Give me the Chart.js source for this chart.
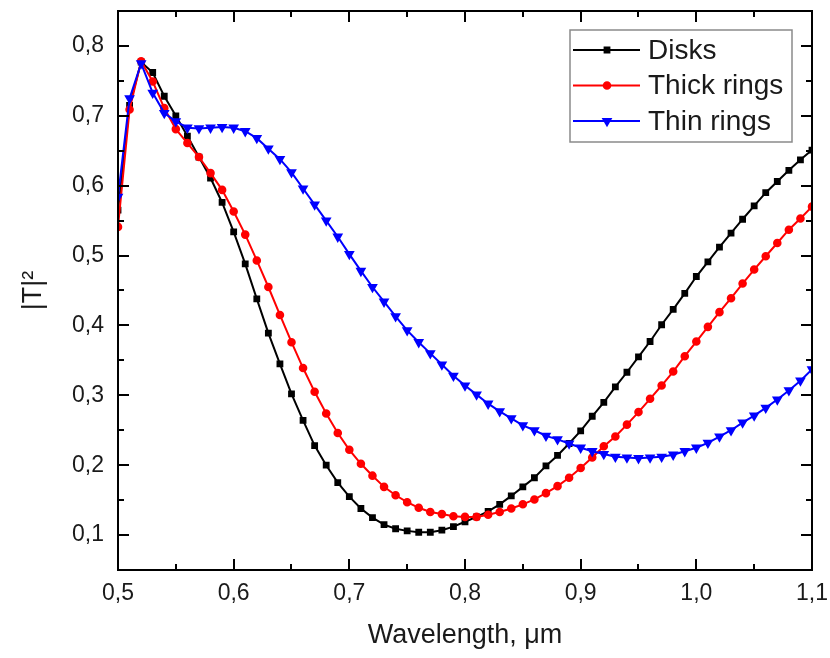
<html>
  <head>
    <script src="https://cdn.jsdelivr.net/npm/chart.js@4.4.0/dist/chart.umd.min.js"></script>
    <title>T2 spectrum</title>
    <style>
      body { margin: 0; background: #fff; }
    </style>
  </head>
  <body>
    <canvas id="myChart" width="830" height="658" style="display:block;width:830px;height:658px;"></canvas>
    <script>
// wavelength, um
const wavelength = [0.50, 0.51, 0.52, 0.53, 0.54, 0.55, 0.56, 0.57, 0.58, 0.59,
  0.60, 0.61, 0.62, 0.63, 0.64, 0.65, 0.66, 0.67, 0.68, 0.69,
  0.70, 0.71, 0.72, 0.73, 0.74, 0.75, 0.76, 0.77, 0.78, 0.79,
  0.80, 0.81, 0.82, 0.83, 0.84, 0.85, 0.86, 0.87, 0.88, 0.89,
  0.90, 0.91, 0.92, 0.93, 0.94, 0.95, 0.96, 0.97, 0.98, 0.99,
  1.00, 1.01, 1.02, 1.03, 1.04, 1.05, 1.06, 1.07, 1.08, 1.09, 1.10];

const disks = [0.565, 0.715, 0.777, 0.762, 0.728, 0.700, 0.671, 0.641, 0.611, 0.576,
  0.534, 0.488, 0.438, 0.389, 0.345, 0.302, 0.264, 0.228, 0.200, 0.175,
  0.155, 0.138, 0.125, 0.115, 0.109, 0.106, 0.104, 0.104, 0.107, 0.112,
  0.119, 0.126, 0.134, 0.144, 0.156, 0.169, 0.182, 0.199, 0.214, 0.231,
  0.249, 0.270, 0.290, 0.312, 0.333, 0.355, 0.377, 0.401, 0.423, 0.446,
  0.470, 0.491, 0.512, 0.532, 0.552, 0.571, 0.590, 0.606, 0.622, 0.637, 0.651];

const thickRings = [0.541, 0.709, 0.778, 0.749, 0.711, 0.681, 0.661, 0.641, 0.618, 0.594,
  0.563, 0.530, 0.493, 0.455, 0.415, 0.376, 0.339, 0.305, 0.274, 0.246,
  0.222, 0.202, 0.185, 0.169, 0.157, 0.147, 0.139, 0.133, 0.130, 0.127,
  0.126, 0.126, 0.129, 0.133, 0.138, 0.144, 0.151, 0.160, 0.170, 0.182,
  0.196, 0.211, 0.227, 0.241, 0.258, 0.276, 0.295, 0.314, 0.334, 0.356,
  0.377, 0.398, 0.419, 0.439, 0.460, 0.480, 0.499, 0.518, 0.537, 0.553, 0.570];

const thinRings = [0.584, 0.725, 0.775, 0.733, 0.704, 0.692, 0.683, 0.682, 0.683, 0.684,
  0.683, 0.678, 0.668, 0.653, 0.638, 0.619, 0.596, 0.573, 0.550, 0.527,
  0.502, 0.478, 0.455, 0.434, 0.413, 0.393, 0.376, 0.360, 0.344, 0.328,
  0.314, 0.301, 0.288, 0.277, 0.267, 0.257, 0.250, 0.242, 0.237, 0.231,
  0.225, 0.220, 0.216, 0.212, 0.211, 0.210, 0.211, 0.212, 0.215, 0.220,
  0.225, 0.232, 0.241, 0.250, 0.261, 0.271, 0.282, 0.294, 0.307, 0.321, 0.337];

const seriesNames = ['Disks', 'Thick rings', 'Thin rings'];
const xTicks = [0.5, 0.6, 0.7, 0.8, 0.9, 1.0, 1.1];
const yTicks = [0.1, 0.2, 0.3, 0.4, 0.5, 0.6, 0.7, 0.8];

const FONT = "'Liberation Sans', Arial, sans-serif";
const TXT = '#1a1a1a';

function pts(arr) {
  return arr.map((v, i) => ({ x: wavelength[i], y: v }));
}
function comma(v) {
  return Number(v).toFixed(1).replace('.', ',');
}
// stop the scales from pushing the plot area in for overflowing labels
function noPad(s) {
  s.paddingTop = 0; s.paddingBottom = 0;
  s.paddingLeft = 0; s.paddingRight = 0;
}

// box frame with inward ticks on all four sides
const frame = {
  id: 'frame',
  afterDatasetsDraw(chart) {
    const { ctx, chartArea: a, scales: { x, y } } = chart;
    ctx.save();
    ctx.strokeStyle = '#000';
    ctx.lineWidth = 2;
    ctx.strokeRect(a.left, a.top, a.right - a.left, a.bottom - a.top);
    ctx.beginPath();
    xTicks.forEach((t, i) => {
      const px = Math.round(x.getPixelForValue(t));
      ctx.moveTo(px, a.bottom); ctx.lineTo(px, a.bottom - 11);
      ctx.moveTo(px, a.top); ctx.lineTo(px, a.top + 11);
      if (i < xTicks.length - 1) {
        const mx = Math.round(x.getPixelForValue((t + xTicks[i + 1]) / 2));
        ctx.moveTo(mx, a.bottom); ctx.lineTo(mx, a.bottom - 6);
        ctx.moveTo(mx, a.top); ctx.lineTo(mx, a.top + 6);
      }
    });
    yTicks.forEach((t, i) => {
      const py = Math.round(y.getPixelForValue(t));
      ctx.moveTo(a.left, py); ctx.lineTo(a.left + 11, py);
      ctx.moveTo(a.right, py); ctx.lineTo(a.right - 11, py);
      if (i < yTicks.length - 1) {
        const my = Math.round(y.getPixelForValue((t + yTicks[i + 1]) / 2));
        ctx.moveTo(a.left, my); ctx.lineTo(a.left + 6, my);
        ctx.moveTo(a.right, my); ctx.lineTo(a.right - 6, my);
      }
    });
    ctx.stroke();
    ctx.restore();
  }
};

// Origin style legend inside the plot
const boxLegend = {
  id: 'boxLegend',
  afterDraw(chart) {
    const ctx = chart.ctx;
    const a = chart.chartArea;
    const bx = a.right - 242, by = a.top + 19, bw = 222, bh = 112;
    ctx.save();
    ctx.fillStyle = '#fff';
    ctx.fillRect(bx, by, bw, bh);
    ctx.strokeStyle = '#8a8a8a';
    ctx.lineWidth = 1.5;
    ctx.strokeRect(bx, by, bw, bh);
    const rows = [chart.data.datasets[0], chart.data.datasets[1], chart.data.datasets[2]];
    rows.forEach((ds, i) => {
      const cy = by + 20 + i * 35.5;
      ctx.strokeStyle = ds.borderColor;
      ctx.lineWidth = 2;
      ctx.beginPath();
      ctx.moveTo(bx + 3, cy); ctx.lineTo(bx + 70, cy);
      ctx.stroke();
      ctx.fillStyle = ds.backgroundColor;
      Chart.helpers.drawPoint(ctx, {
        pointStyle: ds.pointStyle, radius: ds.pointRadius,
        rotation: ds.pointRotation || 0, borderWidth: 1
      }, bx + 37, cy);
      ctx.fillStyle = TXT;
      ctx.font = '28px ' + FONT;
      ctx.textBaseline = 'middle';
      ctx.fillText(ds.label, bx + 78, cy + 1);
    });
    ctx.restore();
  }
};

var ctx = document.getElementById('myChart');
var myChart = new Chart(ctx, {
  type: 'line',
  data: {
    datasets: [{
      label: seriesNames[0],
      data: pts(disks),
      borderColor: '#000000',
      backgroundColor: '#000000',
      borderWidth: 2,
      pointStyle: 'rect',
      pointRadius: 3.4,
      order: 2
    }, {
      label: seriesNames[1],
      data: pts(thickRings),
      borderColor: '#ff0000',
      backgroundColor: '#ff0000',
      borderWidth: 2,
      pointStyle: 'circle',
      pointRadius: 3.3,
      order: 1
    }, {
      label: seriesNames[2],
      data: pts(thinRings),
      borderColor: '#0000ff',
      backgroundColor: '#0000ff',
      borderWidth: 2,
      pointStyle: 'triangle',
      pointRotation: 180,
      pointRadius: 4.2,
      order: 0
    }]
  },
  options: {
    responsive: false,
    animation: false,
    layout: {
      autoPadding: false,
      padding: { top: 11, right: 18, bottom: 0, left: 0 }
    },
    elements: {
      line: { tension: 0 },
      point: { borderWidth: 1, hoverRadius: 4 }
    },
    plugins: {
      legend: { display: false },
      tooltip: { enabled: false }
    },
    scales: {
      x: {
        type: 'linear',
        min: 0.5,
        max: 1.1,
        afterBuildTicks: s => { s.ticks = xTicks.map(v => ({ value: v })); },
        afterFit: s => { s.height = 88; noPad(s); },
        grid: { display: false, drawTicks: false },
        border: { display: false },
        ticks: {
          padding: 10,
          color: TXT,
          maxRotation: 0,
          autoSkip: false,
          font: { family: FONT, size: 23 },
          callback: v => comma(v)
        },
        title: {
          display: true,
          text: 'Wavelength, μm',
          color: TXT,
          font: { family: FONT, size: 27 },
          padding: { top: 0, bottom: 6 }
        }
      },
      y: {
        min: 0.05,
        max: 0.85,
        afterBuildTicks: s => { s.ticks = yTicks.map(v => ({ value: v })); },
        afterFit: s => { s.width = 118; noPad(s); },
        grid: { display: false, drawTicks: false },
        border: { display: false },
        ticks: {
          padding: 14,
          color: TXT,
          autoSkip: false,
          font: { family: FONT, size: 23 },
          callback: v => comma(v)
        },
        title: {
          display: true,
          text: '|T|²',
          color: TXT,
          font: { family: FONT, size: 27 },
          padding: { top: 17, bottom: 0 }
        }
      }
    }
  },
  plugins: [frame, boxLegend]
});
    </script>
  </body>
</html>
